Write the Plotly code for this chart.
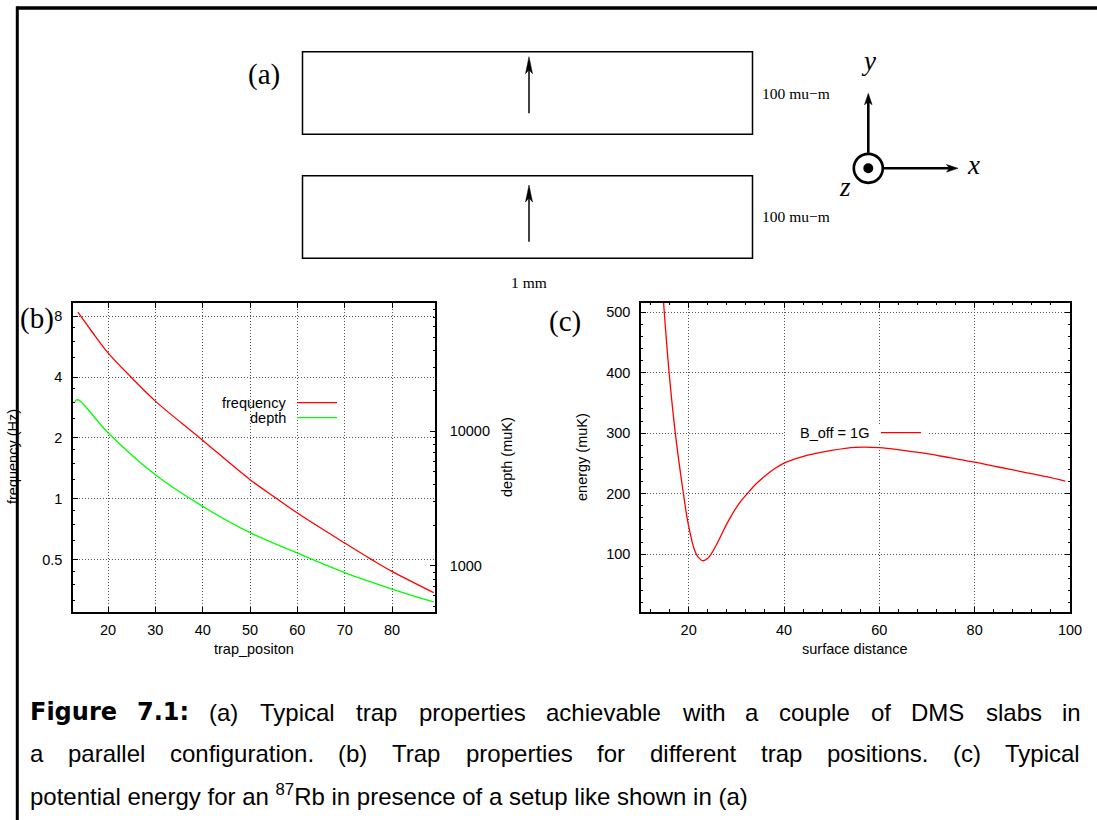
import plotly.graph_objects as go

W, H = 1097, 820

# ---- panel (b): trap frequency and depth against trap position ----
freq_pos = [13.64, 16.5, 20, 24.85, 30, 39.4, 50, 55.7, 60, 70, 75.7, 80, 88.8]
frequency_hz = [8.37, 6.76, 5.27, 4.0, 3.04, 2.0, 1.243, 1.0, 0.85, 0.604, 0.5, 0.437, 0.343]
depth_pos = [13.0, 13.6, 20, 30, 40, 50, 60, 70, 80, 88.8]
depth_muk = [16600, 17200, 9780, 4760, 2770, 1770, 1245, 892, 674, 540]

freq_ticks = [0.5, 1, 2, 4, 8]
freq_ticktext = ["0.5", "1", "2", "4", "8"]
freq_minor = [0.3125, 0.375, 0.4375, 0.625, 0.75, 0.875, 1.25, 1.5, 1.75,
              2.5, 3, 3.5, 5, 6, 7]
depth_ticks = [1000, 10000]
depth_ticktext = ["1000", "10000"]
depth_minor = [500, 600, 700, 800, 900, 2000, 3000, 4000, 5000, 6000, 7000, 8000, 9000,
               20000, 30000, 40000, 50000, 60000, 70000, 80000, 90000]
pos_ticks = [20, 30, 40, 50, 60, 70, 80]

# ---- panel (c): potential energy against surface distance ----
surface_distance = [14.6, 15.9, 17.2, 18.9, 19.9, 21.3, 22.0, 23.0, 24.0, 24.7, 26, 27, 28, 29,
                    30, 31, 32.3, 34, 36, 38, 40, 42, 45, 50, 55, 60, 65, 70, 75, 80, 85, 90,
                    95, 99]
energy_muk = [530, 400, 300, 200, 150, 105, 95, 89, 93, 100, 118, 134, 150, 164,
              177, 188, 200, 215, 229, 241, 250.5, 256.5, 263.5, 271.5, 276.5, 276, 271.5, 266,
              259, 252, 244, 236, 228, 220.5]
dist_ticks = [20, 40, 60, 80, 100]
energy_ticks = [100, 200, 300, 400, 500]

# ---- caption ----
caption_line1 = ["<b>Figure</b>", "<b>7.1:</b>", "(a)", "Typical", "trap", "properties",
                 "achievable", "with", "a", "couple", "of", "DMS", "slabs", "in"]
caption_line2 = ["a", "parallel", "configuration.", "(b)", "Trap", "properties", "for",
                 "different", "trap", "positions.", "(c)", "Typical"]
caption_line3 = "potential energy for an <sup>87</sup>Rb in presence of a setup like shown in (a)"


def px(x):
    return x / W


def py(y):
    return 1 - y / H


SANS = "Liberation Sans, Arial, sans-serif"
SERIF = "Liberation Serif, Times New Roman, serif"
TICKFONT = dict(family=SANS, size=14.5, color="black")
GRID = dict(showgrid=True, gridcolor="#555555", griddash="1px,2px", gridwidth=1)
FRAME = dict(showline=True, linecolor="black", linewidth=1.5, ticks="inside",
             tickcolor="black", tickwidth=1.2, ticklen=5, zeroline=False, tickfont=TICKFONT,
             automargin=False)
MINOR = dict(ticks="inside", ticklen=2.5, tickcolor="black", tickwidth=1, showgrid=False)

fig = go.Figure()
fig.add_trace(go.Scatter(x=freq_pos, y=frequency_hz, mode="lines", name="frequency",
                         line=dict(color="#ff0000", width=1.3, shape="spline", smoothing=1),
                         xaxis="x", yaxis="y"))
fig.add_trace(go.Scatter(x=depth_pos, y=depth_muk, mode="lines", name="depth",
                         line=dict(color="#00ff00", width=1.3, shape="spline", smoothing=1),
                         xaxis="x", yaxis="y2"))
fig.add_trace(go.Scatter(x=surface_distance, y=energy_muk, mode="lines", name="B_off = 1G",
                         line=dict(color="#ff0000", width=1.3, shape="spline", smoothing=1),
                         xaxis="x2", yaxis="y3"))

y_dom = [py(611.7), py(302.8)]
fig.update_layout(
    width=W, height=H, autosize=False, margin=dict(l=0, r=0, t=0, b=0, pad=0),
    paper_bgcolor="white", plot_bgcolor="white", showlegend=False,
    xaxis=dict(domain=[px(73), px(435)], range=[12.6, 89.08], anchor="y",
               tickvals=pos_ticks, mirror="ticks", ticklabelstandoff=4, **GRID, **FRAME),
    yaxis=dict(domain=y_dom, type="log", range=[-0.5588, 0.9694], anchor="x",
               tickvals=freq_ticks, ticktext=freq_ticktext, mirror=True, ticklabelstandoff=6,
               minor=dict(tickvals=freq_minor, **MINOR), **GRID, **FRAME),
    yaxis2=dict(overlaying="y", side="right", anchor="x", type="log", range=[2.660, 4.956],
                tickvals=depth_ticks, ticktext=depth_ticktext, showgrid=False,
                ticklabelstandoff=10, minor=dict(tickvals=depth_minor, **MINOR), **FRAME),
    xaxis2=dict(domain=[px(641), px(1070)], range=[10, 100], anchor="y3",
                tickvals=dist_ticks, mirror="ticks", ticklabelstandoff=4,
                minor=dict(dtick=4, tick0=0, **MINOR), **GRID, **FRAME),
    yaxis3=dict(domain=y_dom, range=[4.75, 515.5], anchor="x2",
                tickvals=energy_ticks, mirror="ticks", ticklabelstandoff=6,
                minor=dict(dtick=20, tick0=0, **MINOR), **GRID, **FRAME),
)

shapes = []
ann = []


def text(x, y, s, size=14.5, family=SANS, xanchor="center", angle=0):
    ann.append(dict(x=px(x), y=py(y), xref="paper", yref="paper", text=s, showarrow=False,
                    xanchor=xanchor, yanchor="middle", textangle=angle,
                    font=dict(family=family, size=size, color="black")))


def seg(x0, y0, x1, y1, color="black", width=1.5):
    shapes.append(dict(type="line", xref="paper", yref="paper", x0=px(x0), x1=px(x1),
                       y0=py(y0), y1=py(y1), line=dict(color=color, width=width)))


def arrow(x_tip, y_tip, x_tail, y_tail, width, head_len, half_w, notch):
    # shaft plus a slim notched head, drawn in page pixels
    dx, dy = x_tip - x_tail, y_tip - y_tail
    n = (dx * dx + dy * dy) ** 0.5
    ux, uy = dx / n, dy / n
    vx, vy = -uy, ux
    seg(x_tail, y_tail, x_tip - ux * (head_len - notch), y_tip - uy * (head_len - notch),
        width=width)
    bx, by = x_tip - ux * head_len, y_tip - uy * head_len
    pts = [(x_tip, y_tip), (bx + vx * half_w, by + vy * half_w),
           (x_tip - ux * (head_len - notch), y_tip - uy * (head_len - notch)),
           (bx - vx * half_w, by - vy * half_w)]
    path = "M " + " L ".join(f"{px(a):.6f},{py(b):.6f}" for a, b in pts) + " Z"
    shapes.append(dict(type="path", xref="paper", yref="paper", path=path,
                       fillcolor="black", line=dict(color="black", width=0.5)))


# page frame
seg(17.3, 8, W, 8, width=3.5)
seg(17.3, 6.3, 17.3, H, width=3)

# ---- panel (a): the two slabs and the coordinate system ----
for y0, y1 in [(51.7, 134.3), (175.7, 258.3)]:
    shapes.append(dict(type="rect", xref="paper", yref="paper", x0=px(302.5), x1=px(752.5),
                       y0=py(y1), y1=py(y0), line=dict(color="black", width=1.5)))
arrow(529, 56.7, 529, 113.3, width=1.5, head_len=17, half_w=3.5, notch=4)
arrow(529, 185, 529, 241.7, width=1.5, head_len=17, half_w=3.5, notch=4)
text(263.6, 75, "(a)", size=29, family=SERIF)
text(759.6, 93.3, "100 mu\u2212m", size=15.5, family=SERIF, xanchor="left")
text(759.6, 216.7, "100 mu\u2212m", size=15.5, family=SERIF, xanchor="left")
text(529, 282, "1 mm", size=15.5, family=SERIF)

cx, cy = 868.3, 168.3
shapes.append(dict(type="circle", xref="paper", yref="paper", x0=px(cx - 14.5), x1=px(cx + 14.5),
                   y0=py(cy + 14.5), y1=py(cy - 14.5), line=dict(color="black", width=2.7)))
shapes.append(dict(type="circle", xref="paper", yref="paper", x0=px(cx - 5), x1=px(cx + 5),
                   y0=py(cy + 5), y1=py(cy - 5), fillcolor="black", line=dict(width=0)))
arrow(cx, 93.3, cx, cy - 15.5, width=2.6, head_len=11.5, half_w=3.8, notch=3)
arrow(958, cy, cx + 15.5, cy, width=2.6, head_len=11.5, half_w=3.8, notch=3)
text(868, 61, "<i>y</i>", size=27, family=SERIF)
text(973, 165, "<i>x</i>", size=27, family=SERIF)
text(845, 187, "<i>z</i>", size=27, family=SERIF)

# ---- panel (b) labels and key ----
text(37, 318, "(b)", size=29, family=SERIF)
text(13, 457, "frequency (Hz)", angle=-90)
text(507, 457, "depth (muK)", angle=-90)
text(254, 649, "trap_positon")
text(287.5, 402.7, "frequency", xanchor="right")
text(287.5, 417.7, "depth", xanchor="right")
seg(297, 402.7, 337, 402.7, color="#ff0000", width=1.3)
seg(297, 417.7, 337, 417.7, color="#00ff00", width=1.3)

# ---- panel (c) labels and key ----
text(565, 321, "(c)", size=29, family=SERIF)
text(582, 457, "energy (muK)", angle=-90)
text(855, 649, "surface distance")
shapes.append(dict(type="rect", xref="paper", yref="paper", x0=px(785), x1=px(927.5),
                   y0=py(441), y1=py(424), fillcolor="white", line=dict(width=0),
                   layer="above"))
text(871.4, 432.7, "B_off = 1G", xanchor="right")
seg(881, 432.7, 921, 432.7, color="#ff0000", width=1.3)

# ---- caption: justified lines, word widths from Arial-style metrics ----
CAP = 24
REG = dict(zip("abcdefghijklmnopqrstuvwxyz",
               [.556, .556, .5, .556, .556, .278, .556, .556, .222, .222, .5, .222, .833,
                .556, .556, .556, .556, .333, .5, .278, .556, .5, .722, .5, .5, .5]))
REG.update({"D": .722, "M": .833, "S": .667, "T": .611, "R": .722, ".": .278, ":": .278,
            "(": .333, ")": .333, "7": .556, "1": .556, "8": .556})
BOLD = {"F": .63, "i": .343, "g": .716, "u": .712, "r": .493, "e": .678, "7": .696,
        ".": .381, "1": .696, ":": .4}


def word_width(w):
    if w.startswith("<b>"):
        plain = w[3:-4]
        return sum(BOLD[c] for c in plain) * CAP
    return sum(REG[c] for c in w) * CAP


def justify(words, y, left=28, right=1079):
    widths = [word_width(w) for w in words]
    gap = (right - left - sum(widths)) / (len(words) - 1)
    x = left
    for w, wd in zip(words, widths):
        if w.startswith("<b>"):
            text(x, y, w, size=CAP, family="DejaVu Sans, Liberation Sans, sans-serif",
                 xanchor="left")
        else:
            text(x, y, w, size=CAP, xanchor="left")
        x += wd + gap


justify(caption_line1, 712)
justify(caption_line2, 753.5)
text(28, 795, caption_line3, size=CAP, xanchor="left")

fig.update_layout(shapes=shapes, annotations=ann)
fig.write_html("out.html", config={"responsive": False, "displayModeBar": False})
